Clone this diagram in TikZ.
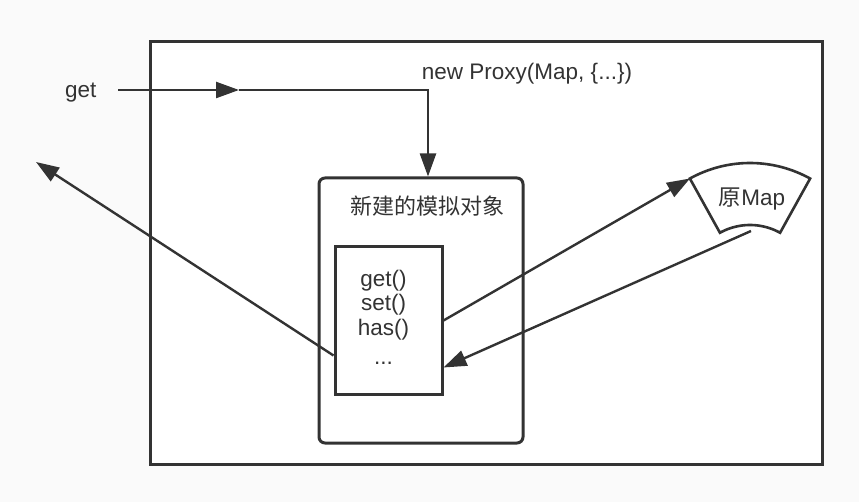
\documentclass[tikz,border=0pt]{standalone}
\usepackage{fontspec}
\setmainfont{Liberation Sans}
\newfontfamily\cjk{Noto Sans CJK SC}
\usepackage{tikz}
\usetikzlibrary{
	arrows.meta,
	positioning,
	calc,
}
\definecolor{ink}{HTML}{333333}
\definecolor{paper}{HTML}{FAFAFA}
\tikzset{objbox/.style={
		% The shape:
		rectangle,
		rounded corners=6pt,
		% The size:
		minimum width=204pt,
		minimum height=265pt,
		% The border:
		line width=3pt,
		draw=ink,
}}
\tikzset{trapbox/.style={
		% The shape:
		rectangle,
		% The size:
		minimum width=107pt,
		minimum height=147pt,
		% The border:
		line width=3pt,
		draw=ink,
}}

\begin{document}
\begin{tikzpicture}[
	x=1pt, y=-1pt,
	>= {Triangle[length=23pt,width=16pt]},
	line width=2.4pt, ink,
	text=ink,
	font=\fontsize{22.5}{27}\selectfont,
	node distance = 17pt
	]
	
	%% canvas
	\fill[paper] (0,0) rectangle (859,502);
	\draw[line width=3pt,fill=white] (150,42) rectangle (822,464);
	
	%% entry
	\coordinate (getstart) at (118,90);
	\coordinate (entry) at (239,90);
	\node (getlbl) [left=of getstart,yshift=-3pt] {get};
	\node (proxycap) at (527,74) {new Proxy(Map, \{...\})};
	
	%% proxy object
	\node (proxy)[objbox] at (421,310.5) { };
	\node (proxytitle) [below=15pt of proxy.north,xshift=6pt,font={\cjk\fontsize{22}{26}\selectfont}] {新建的模拟对象};
	\node (handlers)[trapbox] at (388.5,320.5) { };
	\node (methods) [xshift=-5pt,yshift=3pt,align=center,font={\fontsize{22.5}{24.5}\selectfont}] at (handlers) {get()\\set()\\has()\\[5pt]...};
	
	%% original map
	\draw[line width=2.6pt] plot[domain=-119:-61,samples=40] ({750+124*cos(\x)},{287+124*sin(\x)})
		-- plot[domain=-61:-119,samples=30] ({750+62*cos(\x)},{287+62*sin(\x)}) -- cycle;
	\coordinate (map-nw) at (690,178.5);
	\coordinate (map-s) at (751,231);
	\node (origmap) at (752,199) {{\cjk 原}Map};
	\coordinate (result) at (36,162);
	
	%% connectors
	\draw[->] (getstart) -- (entry);
	\draw[->] (entry) -| ([xshift=7pt]proxy.north);
	\draw[->] (handlers.east) -- (map-nw);
	\draw[->] (map-s) -- ([yshift=-47pt]handlers.east);
	\draw[->] ([yshift=-35pt]handlers.west) -- (result);
	
\end{tikzpicture}
\end{document}
